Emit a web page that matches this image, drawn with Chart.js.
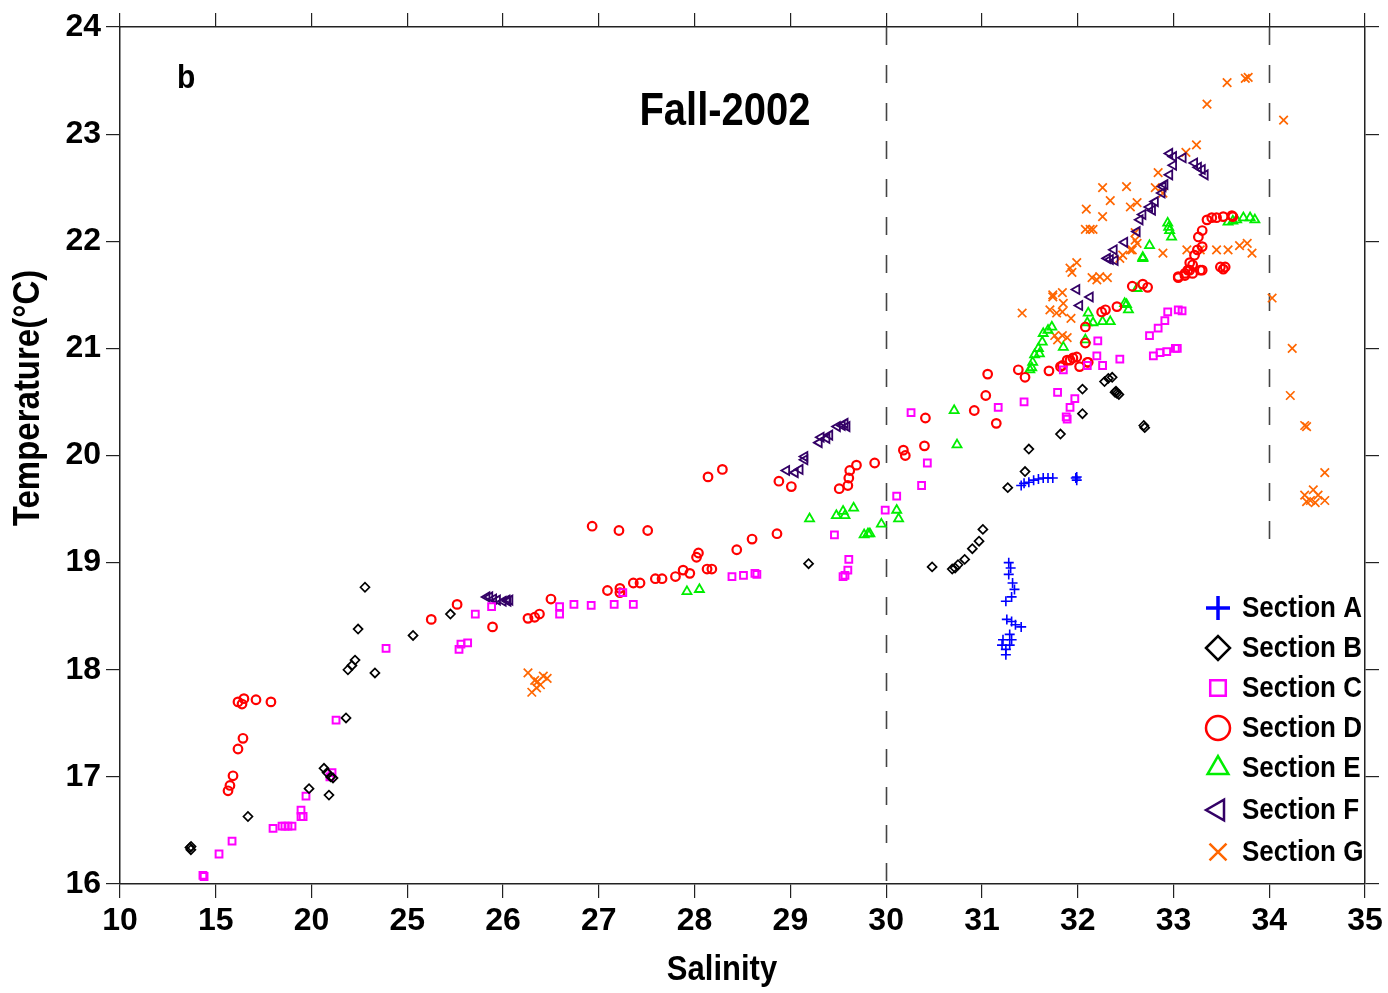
<!DOCTYPE html>
<html>
<head>
<meta charset="utf-8">
<title>Fall-2002 T-S</title>
<script src="https://cdn.jsdelivr.net/npm/chart.js@4.4.1/dist/chart.umd.min.js"></script>
<style>
  html, body { margin: 0; padding: 0; background: #fff; }
  #wrap { width: 1388px; height: 993px; }
</style>
</head>
<body>
<div id="wrap"><canvas id="tsChart" width="1388" height="993"></canvas></div>
<script>
// tick labels (axis is broken: 10-25 in steps of 5, then 25-35 by 1)
const xTickLabels = ['10', '15', '20', '25', '26', '27', '28', '29', '30', '31', '32', '33', '34', '35'];
const yTickValues = [16, 17, 18, 19, 20, 21, 22, 23, 24];

const sectionNames = ['Section A', 'Section B', 'Section C', 'Section D', 'Section E', 'Section F', 'Section G'];

// [salinity, temperature]
const sectionA = [[31.28,19.00],[31.30,18.95],[31.28,18.89],[31.32,18.81],[31.34,18.75],[31.31,18.68],[31.25,18.64],[31.26,18.47],[31.31,18.45],[31.35,18.42],[31.41,18.40],[31.29,18.33],[31.22,18.28],[31.31,18.28],[31.29,18.23],[31.25,18.19],[31.25,18.14],[31.21,18.23],[31.41,19.72],[31.44,19.74],[31.49,19.75],[31.54,19.77],[31.59,19.78],[31.64,19.79],[31.69,19.79],[31.74,19.79],[31.98,19.79],[31.99,19.77],[31.99,19.80]];

const sectionB = [[13.65,16.34],[13.71,16.35],[13.70,16.32],[16.68,16.63],[19.87,16.89],[20.91,16.83],[20.65,17.08],[20.81,17.04],[21.12,16.99],[21.00,17.00],[21.80,17.55],[21.90,18.00],[22.11,18.04],[22.27,18.09],[22.43,18.38],[22.79,18.77],[23.31,17.97],[25.06,18.32],[25.45,18.52],[29.19,18.99],[30.48,18.96],[30.69,18.94],[30.72,18.95],[30.75,18.98],[30.82,19.03],[30.90,19.13],[30.97,19.20],[31.01,19.31],[31.27,19.70],[31.45,19.85],[31.49,20.06],[31.82,20.20],[32.05,20.39],[32.05,20.62],[32.28,20.69],[32.32,20.72],[32.36,20.73],[32.39,20.59],[32.41,20.58],[32.43,20.57],[32.40,20.60],[32.69,20.28],[32.70,20.26]];

const sectionC = [[14.39,16.07],[14.33,16.08],[15.17,16.28],[15.85,16.40],[17.99,16.52],[18.46,16.54],[18.61,16.54],[18.77,16.54],[18.98,16.54],[19.45,16.69],[19.45,16.63],[19.56,16.63],[19.71,16.82],[20.96,17.00],[21.07,17.04],[21.28,17.53],[23.89,18.20],[25.54,18.19],[25.56,18.24],[25.63,18.25],[25.71,18.52],[25.88,18.59],[26.59,18.59],[26.59,18.52],[26.74,18.61],[26.92,18.60],[27.16,18.61],[27.25,18.72],[27.36,18.61],[28.39,18.87],[28.51,18.88],[28.63,18.90],[28.65,18.89],[29.46,19.26],[29.61,19.03],[29.60,18.93],[29.57,18.88],[29.55,18.87],[29.99,19.49],[30.11,19.62],[30.37,19.72],[30.43,19.93],[30.26,20.40],[31.17,20.45],[31.44,20.50],[31.79,20.59],[31.97,20.53],[31.88,20.36],[31.89,20.34],[31.92,20.45],[31.85,20.80],[32.10,20.84],[32.20,20.93],[32.26,20.84],[32.44,20.90],[32.21,21.07],[32.75,21.12],[32.84,21.19],[32.91,21.26],[32.94,21.34],[33.05,21.36],[33.09,21.35],[32.79,20.93],[32.86,20.96],[32.93,20.97],[33.02,21.00],[33.04,21.00]];

const sectionD = [[16.16,17.70],[16.37,17.68],[16.47,17.73],[17.10,17.72],[17.88,17.70],[16.42,17.36],[16.16,17.26],[15.90,17.01],[15.74,16.92],[15.64,16.87],[25.25,18.47],[25.52,18.61],[25.89,18.40],[26.26,18.48],[26.33,18.49],[26.38,18.52],[26.50,18.66],[26.93,19.34],[27.21,19.30],[27.51,19.30],[27.09,18.74],[27.22,18.76],[27.22,18.72],[27.36,18.81],[27.43,18.81],[27.59,18.85],[27.66,18.85],[27.80,18.87],[27.88,18.93],[27.95,18.90],[28.04,19.09],[28.02,19.05],[28.13,18.94],[28.18,18.94],[28.44,19.12],[28.60,19.22],[28.86,19.27],[28.14,19.80],[28.29,19.87],[28.88,19.76],[29.01,19.71],[29.51,19.69],[29.60,19.72],[29.61,19.79],[29.62,19.86],[29.69,19.91],[29.88,19.93],[30.18,20.05],[30.20,20.00],[30.40,20.09],[30.41,20.35],[30.92,20.42],[31.04,20.56],[31.15,20.30],[31.06,20.76],[31.38,20.80],[31.45,20.73],[31.70,20.79],[31.84,20.84],[31.92,20.89],[31.99,20.92],[32.02,20.83],[32.10,20.87],[31.89,20.89],[31.82,20.83],[31.95,20.91],[32.11,20.87],[32.08,21.20],[32.08,21.05],[32.25,21.34],[32.29,21.36],[32.41,21.39],[32.57,21.58],[32.68,21.60],[32.73,21.57],[33.05,21.66],[33.12,21.70],[33.17,21.73],[33.20,21.78],[33.28,21.73],[33.26,22.04],[33.30,22.10],[33.35,22.20],[33.40,22.22],[33.45,22.22],[33.52,22.23],[33.61,22.24],[33.62,22.23],[33.25,21.92],[33.30,21.95],[33.22,21.87],[33.17,21.80],[33.15,21.73],[33.12,21.68],[33.05,21.67],[33.20,21.70],[33.30,21.73],[33.49,21.76],[33.54,21.76],[33.52,21.74]];

const sectionE = [[27.92,18.73],[28.05,18.75],[29.20,19.41],[29.48,19.44],[29.55,19.48],[29.66,19.51],[29.57,19.44],[29.77,19.26],[29.81,19.27],[29.83,19.27],[29.95,19.36],[30.11,19.49],[30.13,19.41],[30.71,20.42],[30.74,20.10],[31.50,20.80],[31.53,20.87],[31.55,20.94],[31.59,21.00],[31.63,21.06],[31.64,21.14],[31.69,21.17],[31.73,21.20],[31.85,21.01],[31.52,20.82],[31.60,20.95],[32.11,21.33],[32.10,21.24],[32.16,21.24],[32.08,21.08],[32.26,21.25],[32.34,21.25],[32.51,21.41],[32.53,21.36],[32.68,21.84],[32.62,21.56],[32.49,21.42],[32.94,22.17],[32.96,22.10],[32.98,22.04],[32.95,22.13],[32.75,21.96],[32.68,21.85],[33.57,22.18],[33.66,22.20],[33.73,22.22],[33.80,22.22],[33.85,22.20],[33.62,22.19]];

const sectionF = [[25.83,18.68],[25.86,18.68],[25.94,18.65],[26.00,18.64],[26.05,18.64],[26.04,18.65],[26.07,18.65],[25.90,18.66],[28.96,19.86],[29.05,19.84],[29.10,19.87],[29.15,19.96],[29.15,19.99],[29.30,20.12],[29.32,20.17],[29.38,20.16],[29.41,20.19],[29.49,20.27],[29.54,20.28],[29.57,20.30],[29.59,20.27],[31.99,21.55],[32.02,21.40],[32.13,21.48],[32.34,21.83],[32.39,21.82],[32.31,21.84],[32.38,21.92],[32.49,21.99],[32.62,22.09],[32.65,22.20],[32.68,22.25],[32.78,22.29],[32.81,22.37],[32.88,22.45],[32.91,22.53],[32.96,22.62],[33.00,22.71],[33.00,22.79],[32.96,22.82],[33.10,22.78],[33.22,22.73],[33.26,22.69],[33.30,22.67],[33.33,22.62],[32.75,22.32],[32.89,22.51]];

const sectionG = [[26.26,17.97],[26.33,17.90],[26.35,17.83],[26.39,17.86],[26.42,17.94],[26.46,17.92],[26.30,17.79],[26.36,17.89],[33.78,23.53],[33.75,23.52],[33.56,23.48],[33.35,23.28],[34.15,23.13],[33.24,22.90],[33.13,22.83],[32.84,22.64],[32.51,22.51],[32.26,22.50],[32.34,22.38],[32.09,22.30],[32.26,22.23],[32.55,22.32],[32.62,22.36],[32.81,22.50],[32.89,22.45],[32.13,22.11],[32.08,22.11],[32.16,22.11],[32.60,22.08],[32.62,21.98],[32.55,21.92],[32.47,21.87],[32.44,21.84],[32.89,21.89],[33.14,21.92],[33.28,21.92],[33.45,21.92],[33.57,21.92],[33.69,21.96],[33.77,21.98],[33.82,21.89],[31.92,21.75],[31.99,21.80],[32.23,21.67],[32.31,21.66],[32.20,21.64],[32.15,21.66],[31.94,21.71],[31.74,21.50],[31.84,21.52],[32.57,21.92],[32.60,22.01],[31.42,21.33],[31.74,21.48],[31.71,21.36],[31.78,21.33],[31.84,21.34],[31.93,21.28],[31.85,21.42],[31.76,21.12],[31.84,21.12],[31.89,21.10],[31.79,21.08],[34.03,21.47],[34.24,21.00],[34.22,20.56],[34.37,20.28],[34.39,20.27],[34.37,19.63],[34.43,19.58],[34.46,19.68],[34.48,19.56],[34.51,19.63],[34.39,19.57],[34.58,19.84],[34.58,19.58]];

const FONT = '"Liberation Sans", Arial, Helvetica, sans-serif';

// salinity -> position on the broken axis
function salToPos(s) {
  return s <= 25 ? (s - 10) / 5 : 3 + (s - 25);
}

const styles = [
  { color: '#0000ff', pointStyle: 'cross',    radius: 5,   rotation: 0,   width: 1.6 },
  { color: '#000000', pointStyle: 'rectRot',  radius: 4.5, rotation: 0,   width: 1.7 },
  { color: '#ff00ff', pointStyle: 'rect',     radius: 4.8, rotation: 0,   width: 2 },
  { color: '#ff0000', pointStyle: 'circle',   radius: 4.3, rotation: 0,   width: 2.2 },
  { color: '#00ee00', pointStyle: 'triangle', radius: 5.2, rotation: 0,   width: 1.8 },
  { color: '#330066', pointStyle: 'triangle', radius: 5.2, rotation: -90, width: 1.8 },
  { color: '#ff6600', pointStyle: 'crossRot', radius: 6,   rotation: 0,   width: 1.7 }
];

const sections = [sectionA, sectionB, sectionC, sectionD, sectionE, sectionF, sectionG];

const datasets = sections.map((pts, i) => ({
  label: sectionNames[i],
  data: pts.map(p => ({ x: salToPos(p[0]), y: p[1] })),
  pointStyle: styles[i].pointStyle,
  pointRadius: styles[i].radius,
  pointRotation: styles[i].rotation,
  pointBorderWidth: styles[i].width,
  pointBorderColor: styles[i].color,
  pointBackgroundColor: 'rgba(0,0,0,0)',
  borderColor: styles[i].color,
  showLine: false
}));

// dashed reference lines at S=30 (full height) and S=34 (upper part)
const refLines = [
  { sal: 30, from: 16, to: 24 },
  { sal: 34, from: 19.1, to: 24 }
];

const legendY = [608, 648, 688, 728, 768, 810, 852];

// text drawn slightly taller than the font's natural shape
function tallText(ctx, txt, x, y, sy) {
  ctx.save();
  ctx.translate(x, y);
  ctx.scale(1, sy);
  ctx.fillText(txt, 0, 0);
  ctx.restore();
}

const overlay = {
  id: 'overlay',
  beforeDatasetsDraw(chart) {
    const ctx = chart.ctx;
    const xs = chart.scales.x, ys = chart.scales.y;
    ctx.save();
    ctx.strokeStyle = '#444';
    ctx.lineWidth = 1.6;
    ctx.setLineDash([18, 20]);
    refLines.forEach(l => {
      const px = Math.round(xs.getPixelForValue(salToPos(l.sal))) + 0.5;
      ctx.beginPath();
      ctx.moveTo(px, ys.getPixelForValue(l.to));
      ctx.lineTo(px, ys.getPixelForValue(l.from));
      ctx.stroke();
    });
    ctx.restore();
  },
  afterDraw(chart) {
    const ctx = chart.ctx;
    ctx.save();
    ctx.fillStyle = '#000';

    ctx.font = 'bold 30px ' + FONT;
    ctx.textAlign = 'left';
    ctx.textBaseline = 'alphabetic';
    tallText(ctx, 'b', 177, 88, 1.1);

    ctx.font = 'bold 40px ' + FONT;
    ctx.textAlign = 'center';
    ctx.textBaseline = 'middle';
    tallText(ctx, 'Fall-2002', 725, 112, 1.15);

    ctx.font = 'bold 31px ' + FONT;
    tallText(ctx, 'Salinity', 722, 970, 1.12);

    ctx.save();
    ctx.translate(29, 398);
    ctx.rotate(-Math.PI / 2);
    ctx.scale(1, 1.12);
    ctx.font = 'bold 33px ' + FONT;
    ctx.fillText('Temperature(\u00B0C)', 0, 0);
    ctx.restore();

    // legend
    ctx.font = 'bold 26px ' + FONT;
    ctx.textAlign = 'left';
    ctx.textBaseline = 'middle';
    sectionNames.forEach((name, i) => {
      const st = styles[i];
      ctx.save();
      ctx.strokeStyle = st.color;
      ctx.fillStyle = 'rgba(0,0,0,0)';
      ctx.lineWidth = i === 0 ? 3.5 : 2.5;
      Chart.helpers.drawPoint(ctx, {
        pointStyle: st.pointStyle,
        radius: i === 2 ? 11 : 12,
        rotation: st.rotation,
        borderWidth: ctx.lineWidth
      }, 1218, legendY[i]);
      ctx.restore();
      ctx.fillStyle = '#000';
      tallText(ctx, name, 1242, legendY[i] + 1, 1.12);
    });
    ctx.restore();
  }
};

const tickFont = { family: FONT, size: 32, weight: 'bold' };
const gridOpts = { display: true, drawOnChartArea: false, drawTicks: true, tickLength: 14, color: '#222', lineWidth: 1.2 };
const borderOpts = { display: true, color: '#222', width: 1.5 };

new Chart(document.getElementById('tsChart'), {
  type: 'scatter',
  data: { datasets: datasets },
  options: {
    responsive: false,
    devicePixelRatio: 1,
    animation: false,
    layout: { padding: 0 },
    plugins: {
      legend: { display: false },
      tooltip: { enabled: false }
    },
    scales: {
      x: {
        type: 'linear', position: 'bottom', min: 0, max: xTickLabels.length - 1,
        grid: gridOpts, border: borderOpts,
        ticks: {
          stepSize: 1, color: '#000', font: tickFont, padding: 4, maxRotation: 0, autoSkip: false,
          callback: v => xTickLabels[Math.round(v)]
        },
        afterFit: s => { s.height = 109; }
      },
      x2: {
        type: 'linear', position: 'top', min: 0, max: xTickLabels.length - 1,
        grid: gridOpts, border: borderOpts,
        ticks: { stepSize: 1, autoSkip: false, callback: () => '' },
        afterFit: s => { s.height = 27; }
      },
      y: {
        type: 'linear', position: 'left', min: yTickValues[0], max: yTickValues[yTickValues.length - 1],
        grid: gridOpts, border: borderOpts,
        ticks: { stepSize: 1, color: '#000', font: tickFont, padding: 5, callback: v => String(v) },
        afterFit: s => { s.width = 120; }
      },
      y2: {
        type: 'linear', position: 'right', min: yTickValues[0], max: yTickValues[yTickValues.length - 1],
        grid: gridOpts, border: borderOpts,
        ticks: { stepSize: 1, callback: () => '' },
        afterFit: s => { s.width = 23; }
      }
    }
  },
  plugins: [overlay]
});
</script>
</body>
</html>
